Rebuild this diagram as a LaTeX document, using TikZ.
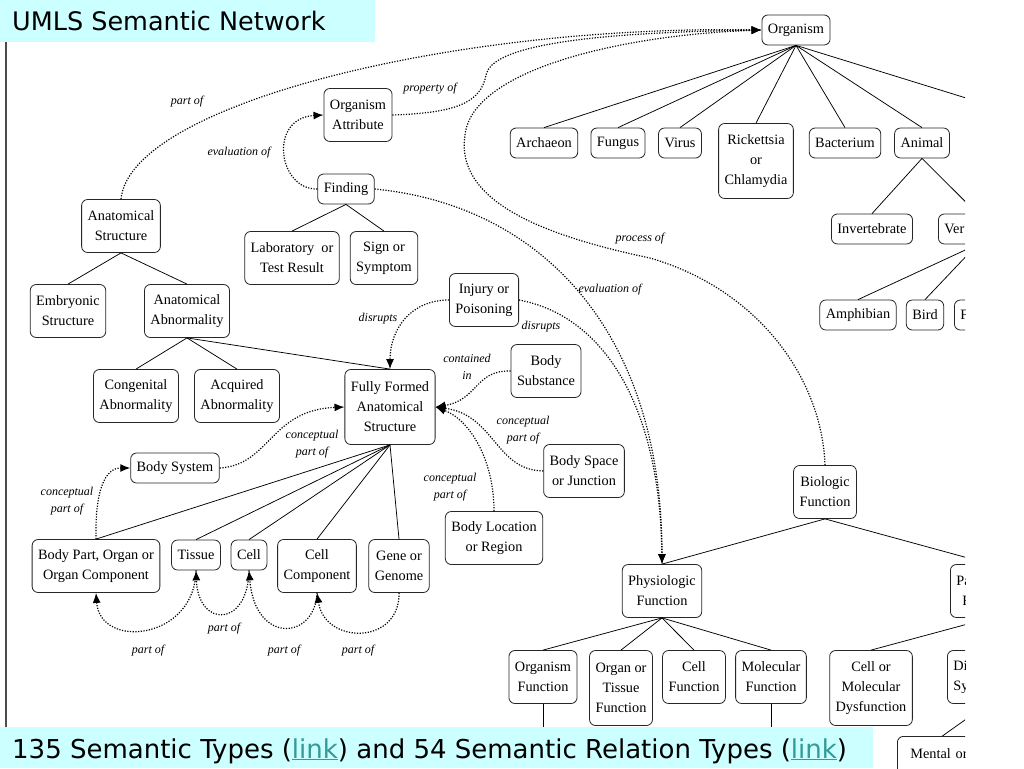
\documentclass[tikz,border=0pt]{standalone}
\usepackage{fontspec}
\setmainfont{Liberation Serif}
\newfontfamily\nodefont{Liberation Serif}
\newfontfamily\bannerfont{DejaVu Sans}
\usetikzlibrary{arrows.meta}
\definecolor{bannercyan}{RGB}{204,255,255}
\definecolor{linkteal}{RGB}{51,153,153}
\begin{document}
\begin{tikzpicture}[x=1pt,y=-1pt,
  box/.style={draw=black!85, line width=0.8pt, rounded corners=6pt, fill=white, align=center,
    font=\nodefont\fontsize{14.3}{20}\selectfont, inner xsep=6pt, inner ysep=1pt, minimum height=30pt},
  box2/.style={box, minimum height=53pt},
  box3/.style={box, minimum height=75pt},
  tree/.style={line width=0.75pt, black},
  rel/.style={line width=1.2pt, dash pattern=on 1.2pt off 1.5pt, black},
  relarrow/.style={rel, -{Latex[length=10pt,width=8pt]}},
  lab/.style={font=\nodefont\fontsize{12}{17}\selectfont\itshape, align=center, inner sep=0pt},
]
\useasboundingbox (0,0) rectangle (1024,768);
\fill[white] (0,0) rectangle (1024,768);

\begin{scope}
\clip (0,0) rectangle (965,768);
% ---------- nodes ----------
\node[box] (org) at (796,30) {Organism};
\node[box] (arch) at (544,143) {Archaeon};
\node[box] (fung) at (618,143) {Fungus};
\node[box] (vir) at (680,143) {Virus};
\node[box3] (rick) at (756,161) {Rickettsia\\or\\Chlamydia};
\node[box] (bact) at (845,143) {Bacterium};
\node[box] (anim) at (922,143) {Animal};
\coordinate (plant) at (1063,128);
\node[box] (inv) at (872,229) {Invertebrate};
\node[box, anchor=west, text width=66pt, align=left] (vert) at (938,229) {Ver};
\node[box] (amph) at (858,315) {Amphibian};
\node[box] (bird) at (925,315) {Bird};
\node[box, anchor=west, text width=30pt, align=left] (fish) at (954,315) {F};

\node[box2] (oa) at (358,115) {Organism\\Attribute};
\node[box] (find) at (346,189) {Finding};
\node[box2] (labr) at (292,258) {Laboratory\ \ or\\Test Result};
\node[box2] (sign) at (384,258) {Sign or\\Symptom};

\node[box2] (as) at (121,226) {Anatomical\\Structure};
\node[box2] (emb) at (68,311) {Embryonic\\Structure};
\node[box2] (aa) at (187,311) {Anatomical\\Abnormality};
\node[box2] (cong) at (136,396) {Congenital\\Abnormality};
\node[box2] (acq) at (237,396) {Acquired\\Abnormality};
\node[box3] (ffas) at (390,407) {Fully Formed\\Anatomical\\Structure};
\node[box2] (inj) at (484,300) {Injury or\\Poisoning};
\node[box2] (bsub) at (546,371) {Body\\Substance};
\node[box2] (bsj) at (584,471) {Body Space\\or Junction};
\node[box2] (blr) at (494,538) {Body Location\\or Region};
\node[box] (bsys) at (175,468) {Body System};
\node[box2] (bp) at (96,566) {Body Part, Organ or\\Organ Component};
\node[box] (tis) at (196,555) {Tissue};
\node[box] (cell) at (249,555) {Cell};
\node[box2] (cc) at (317,566) {Cell\\Component};
\node[box2] (gene) at (399,566) {Gene or\\Genome};

\node[box2] (bf) at (825,492) {Biologic\\Function};
\node[box2] (pf) at (662,591) {Physiologic\\Function};
\node[box2, anchor=west, text width=68pt, align=left] (pathf) at (950,591) {Pa\\\hspace*{6pt}F};
\node[box2] (ofn) at (543,677) {Organism\\Function};
\node[box3] (otf) at (621,688) {Organ or\\Tissue\\Function};
\node[box2] (cfn) at (694,677) {Cell\\Function};
\node[box2] (mfn) at (771,677) {Molecular\\Function};
\node[box3] (cmd) at (871,688) {Cell or\\Molecular\\Dysfunction};
\node[box2, anchor=west, text width=68pt, align=left] (dis) at (947,677) {Di\\Sy};
\node[box3, anchor=north west, text width=78pt, align=left] (mental) at (897,736) {\hspace*{7pt}Mental or\\\mbox{}\\\mbox{}};

% ---------- tree lines ----------
\foreach \c in {arch,fung,vir,rick,bact,anim} \draw[tree] (org.south) -- (\c.north);
\draw[tree] (org.south) -- (plant);
\draw[tree] (anim.south) -- (inv.north);
\draw[tree] (anim.south) -- (vert.north);
\draw[tree] (vert.south) -- (amph.north);
\draw[tree] (vert.south) -- (bird.north);
\draw[tree] (find.south) -- (labr.north);
\draw[tree] (find.south) -- (sign.north);
\draw[tree] (as.south) -- (emb.north);
\draw[tree] (as.south) -- (aa.north);
\draw[tree] (aa.south) -- (cong.north);
\draw[tree] (aa.south) -- (acq.north);
\draw[tree] (aa.south) -- (ffas.north);
\foreach \c in {bp,tis,cell,cc,gene} \draw[tree] (ffas.south) -- (\c.north);
\draw[tree] (bf.south) -- (pf.north);
\draw[tree] (bf.south) -- (pathf.north);
\foreach \c in {ofn,otf,cfn,mfn} \draw[tree] (pf.south) -- (\c.north);
\draw[tree] (pathf.south) -- (cmd.north);
\draw[tree] (dis.south) -- (mental.north);
\coordinate (ofnbelow) at (543,745);
\coordinate (mfnbelow) at (771,745);
\draw[tree] (ofn.south) -- (ofnbelow);
\draw[tree] (mfn.south) -- (mfnbelow);

% ---------- relation curves ----------
\draw[relarrow] (as.north) .. controls (130,105) and (450,25) .. (org.west);
\draw[relarrow] (oa.east) .. controls (455,113) and (481,103) .. (486,75) .. controls (491,50) and (560,33) .. (org.west);
\draw[relarrow] (bf.north) .. controls (822,380) and (760,290) .. (650,258) .. controls (540,235) and (455,200) .. (465,135) .. controls (472,70) and (620,35) .. (org.west);
\draw[relarrow] (find.west) .. controls (278,190) and (268,118) .. (oa.west);
\draw[relarrow] (find.east) .. controls (540,205) and (662,330) .. (pf.north);
\draw[relarrow] (inj.east) .. controls (600,315) and (660,400) .. (pf.north);
\draw[relarrow] (inj.west) .. controls (410,300) and (390,330) .. (ffas.north);
\draw[relarrow] (bsub.west) .. controls (475,370) and (478,400) .. (ffas.east);
\draw[relarrow] (bsj.west) .. controls (495,470) and (495,415) .. (ffas.east);
\draw[relarrow] (blr.north) .. controls (494,460) and (470,420) .. (ffas.east);
\draw[relarrow] (bsys.east) .. controls (270,465) and (270,410) .. (ffas.west);
\draw[relarrow] (bp.north) .. controls (95,490) and (105,468) .. (bsys.west);
\draw[relarrow] (tis.south) .. controls (195,640) and (100,650) .. (bp.south);
\draw[relarrow] (cell.south) .. controls (248,628) and (198,628) .. (tis.south);
\draw[relarrow] (cc.south) .. controls (315,640) and (255,645) .. (cell.south);
\draw[relarrow] (gene.south) .. controls (400,645) and (325,645) .. (cc.south);

% ---------- relation labels ----------
\node[lab] (l1) at (187,102) {part of};
\node[lab] (l2) at (430,89) {property of};
\node[lab] (l3) at (239,153) {evaluation of};
\node[lab] (l4) at (640,239) {process of};
\node[lab] (l5) at (610,290) {evaluation of};
\node[lab] (l6) at (378,319) {disrupts};
\node[lab] (l7) at (541,327) {disrupts};
\node[lab] (l8) at (467,367) {contained\\in};
\node[lab] (l9) at (523,430) {conceptual\\part of};
\node[lab] (l10) at (450,487) {conceptual\\part of};
\node[lab] (l11) at (312,444) {conceptual\\part of};
\node[lab] (l12) at (67,501) {conceptual\\part of};
\node[lab] (l13) at (148,651) {part of};
\node[lab] (l14) at (224,629) {part of};
\node[lab] (l15) at (284,651) {part of};
\node[lab] (l16) at (358,651) {part of};
\end{scope}

% ---------- frame and banners ----------
\draw[line width=1.5pt, black!70] (6,42) -- (6,727);
\fill[bannercyan] (0,0) rectangle (375,42);
\node[anchor=base west, inner sep=0pt, font=\bannerfont\fontsize{25.5}{30}\selectfont] (title) at (12,31) {UMLS Semantic Network};
\fill[bannercyan] (0,727) rectangle (873,768);
\node[anchor=base west, inner sep=0pt, font=\bannerfont\fontsize{26}{30}\selectfont] (footer) at (12,758)
  {135 Semantic Types ({\color{linkteal}\underline{link}}) and 54 Semantic Relation Types ({\color{linkteal}\underline{link}})};
\end{tikzpicture}
\end{document}
